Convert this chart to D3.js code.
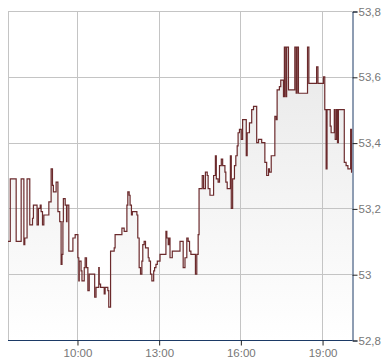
<!DOCTYPE html>
<html>
<head>
<meta charset="utf-8">
<script src="https://cdn.jsdelivr.net/npm/d3@7"></script>
<style>
  body { margin: 0; background: #fff; }
  text { font-family: "Liberation Sans", Arial, sans-serif; }
</style>
</head>
<body>
<script>
const width = 390;
const height = 364;
const margin = { top: 11, right: 38, bottom: 24, left: 8 };

// intraday quotes (step series)
const times = ["7:28","7:33","7:46","7:57","8:03","8:05","8:10","8:16","8:22","8:24","8:32","8:35","8:39","8:41","8:44","8:47","8:58",
  "9:03","9:06","9:08","9:14","9:18","9:22","9:25","9:27","9:29","9:30","9:34","9:37","9:38","9:42","9:51","9:56",
  "10:02","10:04","10:05","10:09","10:11","10:16","10:18","10:21","10:24","10:27","10:39","10:42","10:48","10:49","10:52",
  "11:00","11:02","11:08","11:10","11:14","11:22","11:24","11:39","11:44","11:50","11:52","11:55","11:57",
  "12:00","12:02","12:12","12:14","12:17","12:20","12:23","12:25","12:28","12:31","12:37","12:39","12:42","12:45","12:49","12:51","12:54","12:57",
  "13:03","13:16","13:18","13:21","13:23","13:25","13:30","13:47","13:54","13:58",
  "14:02","14:05","14:08","14:11","14:21","14:24","14:27","14:29","14:36","14:39","14:43","14:47","14:49","14:53",
  "15:01","15:05","15:07","15:11","15:14","15:18","15:21","15:26","15:28","15:31","15:38","15:40","15:43","15:47","15:50","15:53","15:55","15:58",
  "16:02","16:05","16:13","16:15","16:20","16:25","16:29","16:36","16:40","16:47","16:54","16:58",
  "17:02","17:04","17:08","17:16","17:19","17:21","17:26","17:29","17:35","17:37","17:40","17:42","17:46",
  "18:00","18:03","18:05","18:08","18:28","18:31","18:48","18:51",
  "19:03","19:06","19:09","19:11","19:18","19:20","19:27","19:29","19:32","19:34","19:36","19:49","19:53","19:57",
  "20:03","20:05"];
const prices = [53.10,53.29,53.10,53.29,53.09,53.11,53.29,53.15,53.17,53.21,53.15,53.20,53.21,53.19,53.15,53.18,53.22,
  53.32,53.27,53.25,53.28,53.19,53.16,53.03,53.06,53.16,53.23,53.21,53.16,53.21,53.07,53.11,53.12,
  53.05,52.98,53.04,53.01,52.98,53.02,53.05,53.02,52.95,53.00,52.93,52.96,53.02,52.97,52.96,
  52.94,52.96,52.95,52.90,53.07,53.08,53.12,53.14,53.13,53.21,53.25,53.24,53.21,
  53.18,53.19,53.18,53.11,53.02,53.00,53.04,53.09,53.10,53.08,53.05,53.04,53.00,52.98,53.01,53.02,53.03,53.04,
  53.06,53.13,53.11,53.09,53.11,53.05,53.07,53.10,53.02,53.05,
  53.11,53.10,53.07,53.06,53.00,53.06,53.12,53.26,53.30,53.26,53.31,53.30,53.26,53.24,
  53.30,53.36,53.29,53.28,53.33,53.35,53.33,53.31,53.28,53.26,53.36,53.20,53.29,53.33,53.36,53.39,53.43,53.44,
  53.41,53.47,53.36,53.43,53.46,53.50,53.51,53.40,53.41,53.40,53.34,53.30,
  53.32,53.31,53.36,53.48,53.47,53.56,53.57,53.59,53.54,53.69,53.54,53.69,53.56,
  53.69,53.55,53.69,53.55,53.69,53.58,53.63,53.58,
  53.60,53.50,53.32,53.50,53.45,53.43,53.50,53.41,53.50,53.40,53.50,53.34,53.33,53.32,
  53.44,53.31];

const xStart = "7:28";
const xEnd = "20:06";
const xTicks = ["10:00", "13:00", "16:00", "19:00"];
const yTicks = [52.8, 53.0, 53.2, 53.4, 53.6, 53.8];

const parseTime = d3.timeParse("%H:%M");
const data = times.map((t, i) => ({ date: parseTime(t), value: prices[i] }));
// carry the last quote to the right edge
data.push({ date: parseTime(xEnd), value: prices[prices.length - 1] });

const locale = d3.formatLocale({ decimal: ",", thousands: ".", grouping: [3], currency: ["", ""] });
const yFormat = locale.format(".1~f");

const svg = d3.select("body")
    .append("svg")
    .attr("width", width)
    .attr("height", height);

const xScale = d3.scaleTime()
    .domain([parseTime(xStart), parseTime(xEnd)])
    .range([margin.left, width - margin.right]);

const yScale = d3.scaleLinear()
    .domain([52.8, 53.8])
    .range([height - margin.bottom, margin.top]);

const x0 = margin.left, x1 = width - margin.right;
const y0 = height - margin.bottom, y1 = margin.top;

// background gradient under the line
const grad = svg.append("defs").append("linearGradient")
    .attr("id", "fade")
    .attr("gradientUnits", "userSpaceOnUse")
    .attr("x1", 0).attr("x2", 0)
    .attr("y1", y1).attr("y2", y0);
grad.append("stop").attr("offset", 0).attr("stop-color", "#e6e6e6");
grad.append("stop").attr("offset", 1).attr("stop-color", "#ffffff");

const area = d3.area()
    .curve(d3.curveStepAfter)
    .x(d => xScale(d.date))
    .y0(y0)
    .y1(d => yScale(d.value));

svg.append("path")
    .datum(data)
    .attr("fill", "url(#fade)")
    .attr("d", area);

// grid
svg.append("g")
    .selectAll("line")
    .data(yTicks)
    .enter()
    .append("line")
    .attr("x1", x0).attr("x2", x1)
    .attr("y1", d => Math.round(yScale(d)) + 0.5)
    .attr("y2", d => Math.round(yScale(d)) + 0.5)
    .attr("stroke", "#c4c4c4");

svg.append("g")
    .selectAll("line")
    .data(xTicks)
    .enter()
    .append("line")
    .attr("x1", d => Math.round(xScale(parseTime(d))) + 0.5)
    .attr("x2", d => Math.round(xScale(parseTime(d))) + 0.5)
    .attr("y1", y1).attr("y2", y0)
    .attr("stroke", "#c4c4c4");

// left border
svg.append("line")
    .attr("x1", x0 + 0.5).attr("x2", x0 + 0.5)
    .attr("y1", y1).attr("y2", y0)
    .attr("stroke", "#c4c4c4");

const line = d3.line()
    .curve(d3.curveStepAfter)
    .x(d => xScale(d.date))
    .y(d => yScale(d.value));

svg.append("path")
    .datum(data)
    .attr("fill", "none")
    .attr("stroke", "#6b2a2c")
    .attr("stroke-width", 1.2)
    .attr("d", line);

// right axis
const yAxis = d3.axisRight(yScale)
    .tickValues(yTicks)
    .tickFormat(yFormat)
    .tickSize(5)
    .tickPadding(1);

const gy = svg.append("g")
    .attr("transform", `translate(${x1 + 0.5},0.5)`)
    .call(yAxis);
gy.select(".domain").attr("stroke", "#1c3a66");
gy.selectAll(".tick line").attr("stroke", "#222");
gy.selectAll("text")
    .attr("fill", "#777")
    .attr("font-size", 11.5)
    .attr("font-family", "Liberation Sans, Arial, sans-serif");

// bottom axis
const xAxis = d3.axisBottom(xScale)
    .tickValues(xTicks.map(parseTime))
    .tickFormat(d3.timeFormat("%H:%M"))
    .tickSize(5)
    .tickPadding(3);

const gx = svg.append("g")
    .attr("transform", `translate(0.5,${y0 + 0.5})`)
    .call(xAxis);
gx.select(".domain").attr("stroke", "#1c3a66").attr("d", `M${x0 - 0.5},0H${x1}`);
gx.selectAll(".tick line").attr("stroke", "#222");
gx.selectAll("text")
    .attr("fill", "#777")
    .attr("font-size", 11.5)
    .attr("font-family", "Liberation Sans, Arial, sans-serif");
</script>
</body>
</html>
